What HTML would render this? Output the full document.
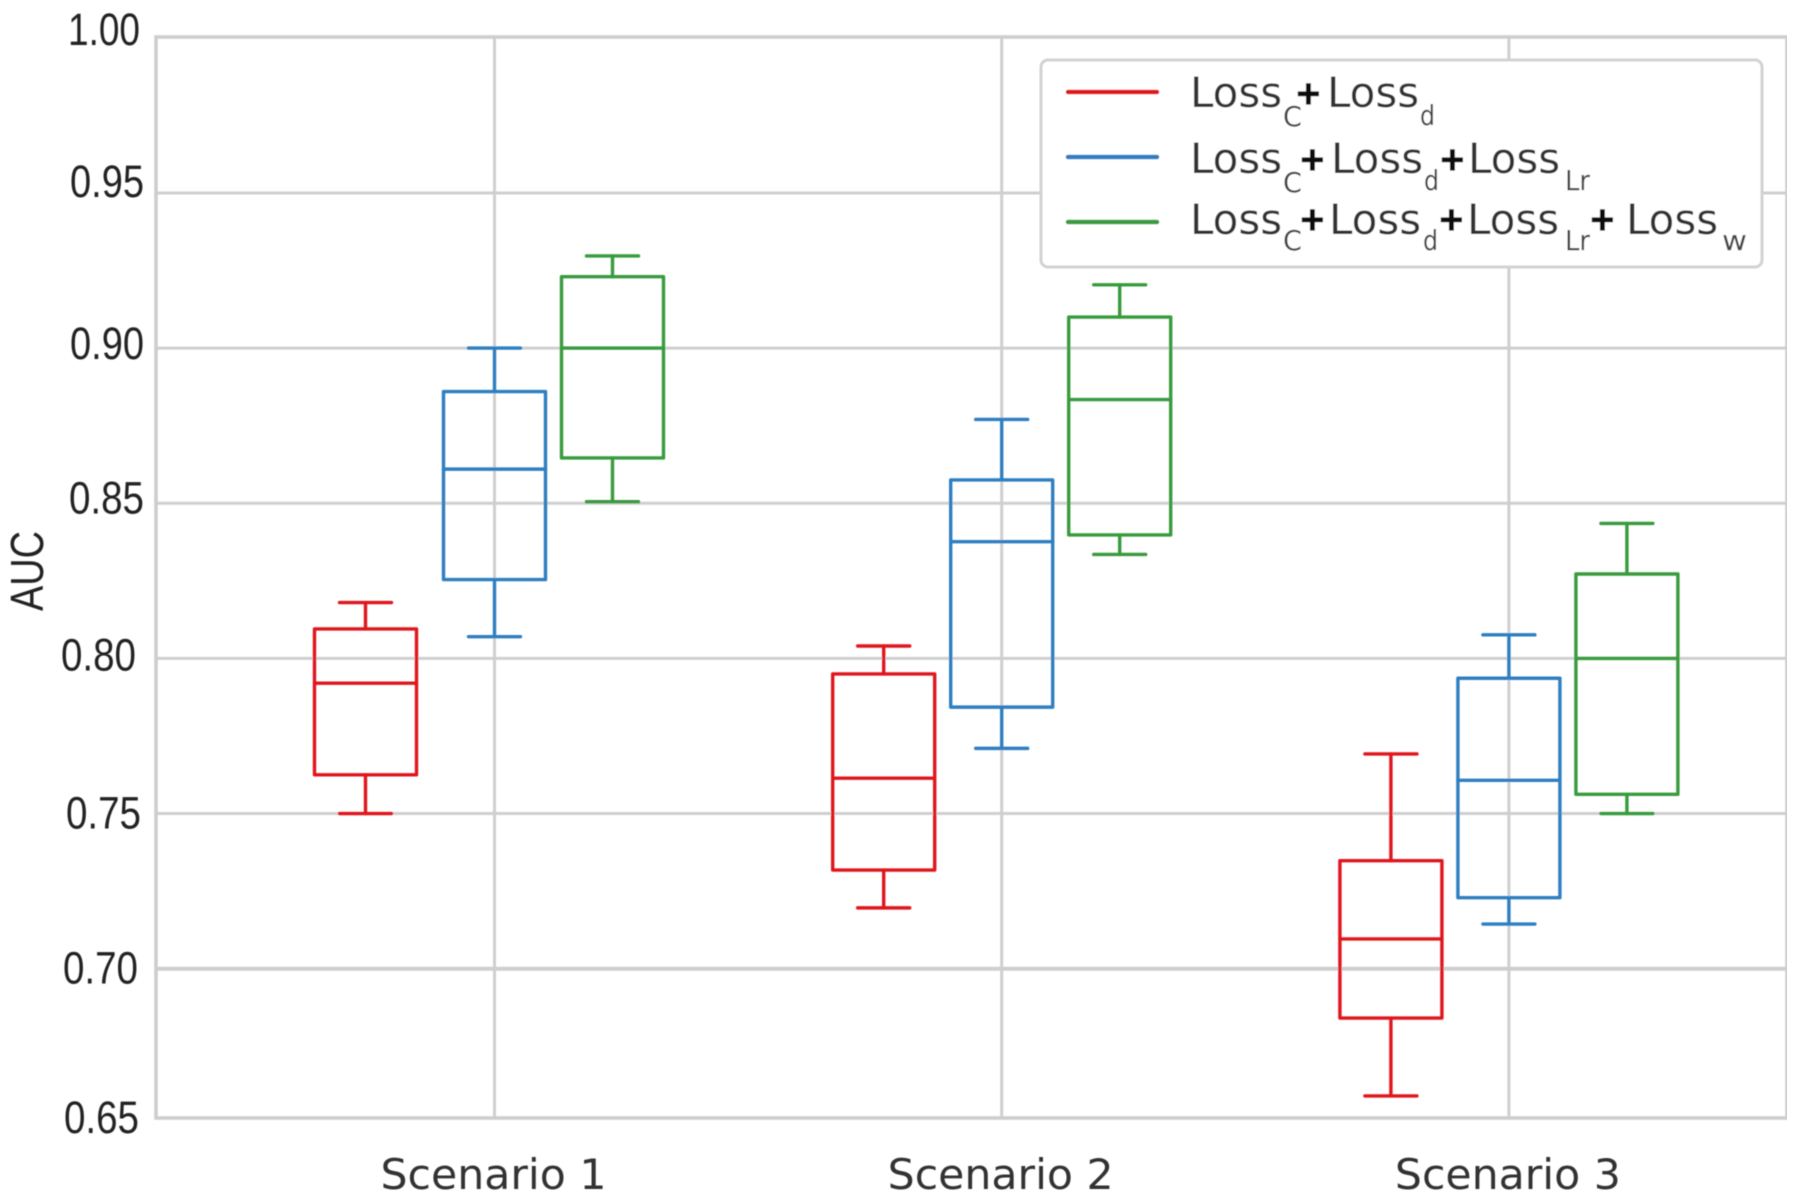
<!DOCTYPE html>
<html lang="en">
<head>
<meta charset="utf-8">
<title>AUC box plot by scenario</title>
<style>
  html, body { margin: 0; padding: 0; background: #fff; }
  #chart { display: block; width: 1800px; height: 1201px; }
  .tick { font-family: "Liberation Sans", sans-serif; fill: #222; }
  .xt { font-family: "DejaVu Sans", sans-serif; fill: #333; }
  .lg { font-family: "DejaVu Sans", sans-serif; fill: #333; font-size: 42px; }
  .lgs { font-family: "DejaVu Sans", sans-serif; fill: #444; font-size: 28px; }
  .lgp { font-family: "DejaVu Sans", sans-serif; fill: #111; stroke: #111; stroke-width: 1.2; font-size: 32px; font-weight: bold; }
</style>
</head>
<body>
<svg id="chart" xmlns="http://www.w3.org/2000/svg" width="1800" height="1201" viewBox="0 0 1800 1201">
  <defs>
    <filter id="soft" x="0" y="0" width="100%" height="100%"><feGaussianBlur stdDeviation="0.6"/></filter>
  </defs>
  <rect x="0" y="0" width="1800" height="1201" fill="#fff"/>
  <g filter="url(#soft)">
  <g id="grid"></g>
  <g id="spines"></g>
  <g id="yticks"></g>
  <g id="xticks"></g>
  <text class="tick" font-size="46" textLength="80" lengthAdjust="spacingAndGlyphs" text-anchor="middle" transform="translate(43,571) rotate(-90)">AUC</text>
  <g id="boxes"></g>

  <g>
    <rect x="1041" y="60" width="721" height="207" rx="7" fill="#fff" stroke="#d2d2d2" stroke-width="3"/>
    <line x1="1068" x2="1157" y1="92" y2="92" stroke="#e0161f" stroke-width="4.5" stroke-linecap="round"/>
    <line x1="1068" x2="1157" y1="157" y2="157" stroke="#2f7fc1" stroke-width="4.5" stroke-linecap="round"/>
    <line x1="1068" x2="1157" y1="222" y2="222" stroke="#389b3c" stroke-width="4.5" stroke-linecap="round"/>
    <g>
      <text class="lg" x="1190" y="107">Loss</text>
      <text class="lgs" x="1283" y="126" textLength="19" lengthAdjust="spacingAndGlyphs">C</text>
      <text class="lgp" x="1295" y="104">+</text>
      <text class="lg" x="1327" y="107">Loss</text>
      <text class="lgs" x="1420" y="125" textLength="15" lengthAdjust="spacingAndGlyphs">d</text>
    </g>
    <g>
      <text class="lg" x="1190" y="173">Loss</text>
      <text class="lgs" x="1283" y="192" textLength="19" lengthAdjust="spacingAndGlyphs">C</text>
      <text class="lgp" x="1299" y="170">+</text>
      <text class="lg" x="1331" y="173">Loss</text>
      <text class="lgs" x="1424" y="190" textLength="15" lengthAdjust="spacingAndGlyphs">d</text>
      <text class="lgp" x="1439" y="170">+</text>
      <text class="lg" x="1468" y="173">Loss</text>
      <text class="lgs" x="1565" y="190" textLength="25" lengthAdjust="spacingAndGlyphs">Lr</text>
    </g>
    <g>
      <text class="lg" x="1190" y="234">Loss</text>
      <text class="lgs" x="1283" y="250" textLength="19" lengthAdjust="spacingAndGlyphs">C</text>
      <text class="lgp" x="1299" y="230">+</text>
      <text class="lg" x="1329" y="234">Loss</text>
      <text class="lgs" x="1423" y="250" textLength="15" lengthAdjust="spacingAndGlyphs">d</text>
      <text class="lgp" x="1438" y="230">+</text>
      <text class="lg" x="1467" y="234">Loss</text>
      <text class="lgs" x="1565" y="250" textLength="25" lengthAdjust="spacingAndGlyphs">Lr</text>
      <text class="lgp" x="1589" y="230">+</text>
      <text class="lg" x="1626" y="234">Loss</text>
      <text class="lgs" x="1722" y="250" textLength="25" lengthAdjust="spacingAndGlyphs">w</text>
    </g>
  </g>
  </g>
</svg>
<script>
const categories = ["Scenario 1", "Scenario 2", "Scenario 3"];
const seriesKeys = ["red", "blue", "green"];
const yTickValues = [1.00, 0.95, 0.90, 0.85, 0.80, 0.75, 0.70, 0.65];
const yTickLabels = ["1.00", "0.95", "0.90", "0.85", "0.80", "0.75", "0.70", "0.65"];
// five-number summaries per scenario: low whisker, Q1, median, Q3, high whisker
const redSeries = [
  [0.750, 0.7625, 0.792, 0.8095, 0.818],
  [0.7196, 0.7318, 0.7614, 0.795, 0.804],
  [0.659, 0.6841, 0.7096, 0.7348, 0.7692]
];
const blueSeries = [
  [0.807, 0.8254, 0.861, 0.886, 0.900],
  [0.771, 0.7843, 0.8376, 0.8575, 0.877],
  [0.7144, 0.7229, 0.7607, 0.7936, 0.8076]
];
const greenSeries = [
  [0.8505, 0.8646, 0.900, 0.923, 0.9297],
  [0.8335, 0.8398, 0.8834, 0.910, 0.9204],
  [0.750, 0.7562, 0.800, 0.8272, 0.8435]
];

const NS = "http://www.w3.org/2000/svg";
const plotLeft = 156, plotRight = 1787, plotTop = 37, plotBottom = 1118;
const colors = { red: "#e0161f", blue: "#2f7fc1", green: "#389b3c" };

function yScale(v) { return Math.min(plotBottom, 37.8 + (1 - v) * 3103); }
function xCenter(i) { return 494.5 + i * 507.2; }
function boxCenter(catIndex, seriesIndex) {
  const offset = (seriesIndex - 1) * 118;
  const handShift = (catIndex === 0 && seriesIndex === 0) ? -11 : 0;
  return xCenter(catIndex) + offset + handShift;
}
function make(tag, attrs, parent) {
  const node = document.createElementNS(NS, tag);
  for (const k in attrs) node.setAttribute(k, attrs[k]);
  parent.appendChild(node);
  return node;
}

const grid = document.getElementById("grid");
const spines = document.getElementById("spines");
const yticks = document.getElementById("yticks");
const xticks = document.getElementById("xticks");
const boxes = document.getElementById("boxes");
const gridStroke = "#cfcfcf";

yTickValues.forEach(function (v, i) {
  const y = yScale(v);
  if (i > 0 && i < yTickValues.length - 1) {
    const line = make("line", { x1: plotLeft, x2: plotRight, y1: y, y2: y, stroke: gridStroke, "stroke-width": v === 0.70 ? 4 : 3 }, grid);
    
    
  }
  const labelLift = [9, 12, 5, 6, 4, 1, 1, 1][i];
  const labelRight = [140, 144, 144, 144, 136, 141, 138, 139][i];
  const labelWidth = [72, 74, 74, 75, 75, 75, 75, 75][i];
  const t = make("text", { class: "tick", x: labelRight, y: y - labelLift + 16, "text-anchor": "end", "font-size": 45, textLength: labelWidth, lengthAdjust: "spacingAndGlyphs" }, yticks);
  
  
  t.textContent = yTickLabels[i];
});

categories.forEach(function (name, i) {
  const x = xCenter(i);
  const line = make("line", { x1: x, x2: x, y1: plotTop, y2: plotBottom, stroke: gridStroke, "stroke-width": 3 }, grid);
  
  
  const t = make("text", { class: "xt", x: x - 1, y: 1189, "text-anchor": "middle", "font-size": 42, textLength: 226, lengthAdjust: "spacingAndGlyphs" }, xticks);
  
  
  t.textContent = name;
});

const frame = make("rect", { x: plotLeft, y: plotTop, width: plotRight - plotLeft, height: plotBottom - plotTop, fill: "none", stroke: "#cdcdcd", "stroke-width": 3.5 }, spines);



[redSeries, blueSeries, greenSeries].forEach(function (series, s) {
  const color = colors[seriesKeys[s]];
  series.forEach(function (stats, c) {
    const cx = boxCenter(c, s);
    const halfBox = 51, halfCap = 26;
    const g = make("g", { fill: "none", stroke: color, "stroke-width": 3.4, "stroke-linejoin": "round", "stroke-linecap": "round" }, boxes);
    
    
    const low = yScale(stats[0]), q1 = yScale(stats[1]), med = yScale(stats[2]), q3 = yScale(stats[3]), high = yScale(stats[4]);
    const lowerWhisker = make("line", { x1: cx, x2: cx, y1: q1, y2: low }, g);
    
    
    const upperWhisker = make("line", { x1: cx, x2: cx, y1: q3, y2: high }, g);
    
    
    const lowerCap = make("line", { x1: cx - halfCap, x2: cx + halfCap, y1: low, y2: low }, g);
    
    
    const upperCap = make("line", { x1: cx - halfCap, x2: cx + halfCap, y1: high, y2: high }, g);
    
    
    const body = make("rect", { x: cx - halfBox, y: q3, width: halfBox * 2, height: q1 - q3 }, g);
    
    
    const median = make("line", { x1: cx - halfBox, x2: cx + halfBox, y1: med, y2: med }, g);
    
    
  });
});
</script>
</body>
</html>
